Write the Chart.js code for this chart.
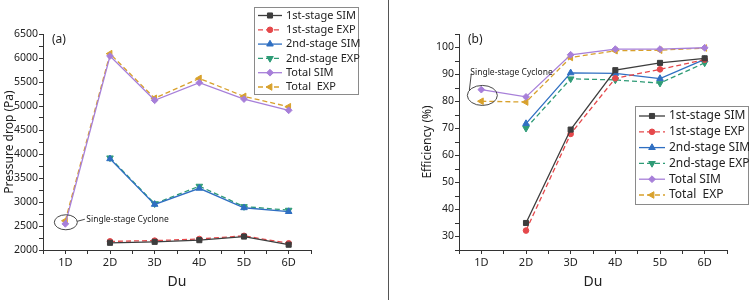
<!DOCTYPE html>
<html>
<head>
<meta charset="utf-8">
<script src="https://cdn.jsdelivr.net/npm/chart.js@4.4.0/dist/chart.umd.min.js"></script>
<style>
  html, body { margin: 0; padding: 0; background: #fff; }
  #wrap { display: flex; width: 750px; height: 300px; }
  #left { width: 388px; height: 300px; border-right: 1px solid #555; }
  #right { width: 361px; height: 300px; }
  canvas { display: block; }
</style>
</head>
<body>
<div id="wrap">
  <div id="left"><canvas id="dpChart" width="388" height="300"></canvas></div>
  <div id="right"><canvas id="effChart" width="361" height="300"></canvas></div>
</div>
<script>
// categories on the x axis
const categories = ['1D', '2D', '3D', '4D', '5D', '6D'];

// (a) pressure drop, Pa  (null = no value for single-stage)
const dp1Sim   = [null, 2150, 2170, 2205, 2280, 2110];
const dp1Exp   = [null, 2180, 2195, 2230, 2295, 2140];
const dp2Sim   = [null, 3900, 2950, 3285, 2880, 2800];
const dp2Exp   = [null, 3920, 2965, 3330, 2905, 2830];
const dpTotSim = [2545, 6040, 5120, 5485, 5145, 4910];
const dpTotExp = [2610, 6090, 5160, 5575, 5200, 4985];

// (b) efficiency, %
const ef1Sim   = [null, 35.0, 69.6, 91.6, 94.3, 96.0];
const ef1Exp   = [null, 32.2, 68.0, 88.6, 91.9, 95.5];
const ef2Sim   = [null, 71.8, 90.6, 90.4, 88.5, 95.6];
const ef2Exp   = [null, 70.1, 88.4, 88.0, 86.8, 94.3];
const efTotSim = [84.4, 81.7, 97.3, 99.4, 99.4, 99.9];
const efTotExp = [80.1, 79.8, 96.3, 98.8, 99.0, 99.8];

const seriesNames = ['1st-stage SIM', '1st-stage EXP', '2nd-stage SIM', '2nd-stage EXP', 'Total SIM', 'Total  EXP'];

Chart.defaults.font.family = "'Noto Sans', sans-serif";
Chart.defaults.color = '#222';

const styles = [
  { color: '#3d3d3d', point: 'rect',     rot: 0,   r: 3.6, dash: [] },
  { color: '#e5484b', point: 'circle',   rot: 0,   r: 2.8, dash: [5, 3] },
  { color: '#2f6fc2', point: 'triangle', rot: 0,   r: 3.8, dash: [] },
  { color: '#2e9b76', point: 'triangle', rot: 180, r: 3.8, dash: [5, 3] },
  { color: '#a77fd9', point: 'rectRot',  rot: 0,   r: 3.4, dash: [] },
  { color: '#d8a12c', point: 'triangle', rot: 270, r: 3.8, dash: [5, 3] }
];

function toPoints(values) {
  const pts = [];
  values.forEach((v, i) => { if (v !== null) pts.push({ x: i + 1, y: v }); });
  return pts;
}

function makeDatasets(list) {
  return list.map((values, i) => ({
    label: seriesNames[i],
    data: toPoints(values),
    borderColor: styles[i].color,
    backgroundColor: styles[i].color,
    borderWidth: 1.3,
    borderDash: styles[i].dash,
    pointStyle: styles[i].point,
    pointRotation: styles[i].rot,
    pointRadius: styles[i].r,
    pointBorderWidth: 1,
    tension: 0
  }));
}

function markerAt(ctx, ds, x, y) {
  ctx.save();
  ctx.setLineDash([]);
  ctx.fillStyle = ds.backgroundColor;
  ctx.strokeStyle = ds.borderColor;
  ctx.lineWidth = 1;
  Chart.helpers.drawPoint(ctx, { pointStyle: ds.pointStyle, rotation: ds.pointRotation, radius: ds.pointRadius, borderWidth: 1 }, x, y);
  ctx.restore();
}

// boxed legend drawn at a fixed spot of the canvas
const boxLegend = {
  id: 'boxLegend',
  afterDraw(chart, args, o) {
    const ctx = chart.ctx;
    ctx.save();
    ctx.fillStyle = '#fff';
    ctx.fillRect(o.x, o.y, o.w, o.h);
    ctx.strokeStyle = '#8a8a8a';
    ctx.lineWidth = 1;
    ctx.strokeRect(o.x + 0.5, o.y + 0.5, o.w, o.h);
    ctx.font = o.size + "px 'Noto Sans', sans-serif";
    ctx.textBaseline = 'middle';
    chart.data.datasets.forEach((ds, i) => {
      const y = o.y + o.first + i * o.row;
      const x0 = o.x + 4;
      ctx.strokeStyle = ds.borderColor;
      ctx.lineWidth = 1.3;
      ctx.setLineDash(ds.borderDash);
      ctx.beginPath();
      ctx.moveTo(x0, y);
      ctx.lineTo(x0 + o.line, y);
      ctx.stroke();
      ctx.setLineDash([]);
      markerAt(ctx, ds, x0 + o.line / 2, y);
      ctx.fillStyle = '#222';
      ctx.fillText(ds.label, x0 + o.line + 4, y);
    });
    ctx.restore();
  }
};

// panel letter + "Single-stage Cyclone" callout
const callout = {
  id: 'callout',
  afterDatasetsDraw(chart, args, o) {
    const ctx = chart.ctx;
    const xs = chart.scales.x, ys = chart.scales.y;
    const area = chart.chartArea;
    ctx.save();
    ctx.fillStyle = '#222';
    ctx.font = "12px 'Noto Sans', sans-serif";
    ctx.textBaseline = 'middle';
    ctx.fillText(o.letter, area.left + 9, area.top + 6);

    const cx = xs.getPixelForValue(1);
    const cy = (ys.getPixelForValue(o.yA) + ys.getPixelForValue(o.yB)) / 2;
    ctx.strokeStyle = '#333';
    ctx.lineWidth = 0.9;
    ctx.beginPath();
    ctx.ellipse(cx + o.dx, cy, o.rx, o.ry, 0, 0, Math.PI * 2);
    ctx.stroke();
    ctx.beginPath();
    ctx.moveTo(cx + o.dx + o.lx0, cy + o.ly0);
    ctx.lineTo(cx + o.dx + o.lx1, cy + o.ly1);
    ctx.stroke();
    ctx.font = o.size + "px 'Noto Sans', sans-serif";
    ctx.fillText('Single-stage Cyclone', cx + o.tx, cy + o.ty);
    ctx.restore();
  }
};

function axisOptions(cfg) {
  return {
    x: {
      type: 'linear', min: 0.5, max: 6.5,
      afterFit: s => { s.height = 50; },
      ticks: {
        stepSize: 0.5, autoSkip: false, maxRotation: 0, padding: 2,
        font: { size: 11 }, color: '#222',
        callback: v => Number.isInteger(v) ? categories[v - 1] : ''
      },
      grid: { drawOnChartArea: false, drawTicks: true, tickLength: 4, color: '#333' },
      border: { color: '#333', width: 1 },
      title: { display: true, text: 'Du', font: { size: 14 }, color: '#222', padding: { top: 0, bottom: 9.5 } }
    },
    y: {
      min: cfg.min, max: cfg.max,
      afterFit: s => { s.width = cfg.yWidth; },
      ticks: {
        stepSize: cfg.step, autoSkip: false, padding: 1,
        font: { size: 10.5 }, color: '#222',
        callback: cfg.label
      },
      grid: { drawOnChartArea: false, drawTicks: true, tickLength: 4, color: '#333' },
      border: { color: '#333', width: 1 },
      title: { display: true, text: cfg.title, font: { size: 12 }, color: '#222', padding: { top: cfg.titlePad, bottom: 0 } }
    }
  };
}

new Chart(document.getElementById('dpChart'), {
  type: 'line',
  data: { datasets: makeDatasets([dp1Sim, dp1Exp, dp2Sim, dp2Exp, dpTotSim, dpTotExp]) },
  options: {
    responsive: false, animation: false, devicePixelRatio: 1,
    layout: { padding: { left: 0, right: 77, top: 34, bottom: 0 } },
    plugins: {
      legend: { display: false }, tooltip: { enabled: false },
      boxLegend: { x: 254, y: 7, w: 104, h: 87, first: 8.5, row: 14.3, line: 24, size: 11 },
      callout: { letter: '(a)', yA: 2545, yB: 2610, dx: 0.5, rx: 11.5, ry: 7.5,
                 lx0: 11.5, ly0: -1, lx1: 19, ly1: -3, tx: 21, ty: -2.5, size: 8.5 }
    },
    scales: axisOptions({ min: 2000, max: 6500, step: 250, yWidth: 43, title: 'Pressure drop (Pa)', titlePad: 2.5,
      label: v => v % 500 === 0 ? v : '' })
  },
  plugins: [callout, boxLegend]
});

new Chart(document.getElementById('effChart'), {
  type: 'line',
  data: { datasets: makeDatasets([ef1Sim, ef1Exp, ef2Sim, ef2Exp, efTotSim, efTotExp]) },
  options: {
    responsive: false, animation: false, devicePixelRatio: 1,
    layout: { padding: { left: 30, right: 23, top: 34, bottom: 0 } },
    plugins: {
      legend: { display: false }, tooltip: { enabled: false },
      boxLegend: { x: 246, y: 106, w: 113, h: 98, first: 10, row: 15.8, line: 26, size: 12 },
      callout: { letter: '(b)', yA: 84.4, yB: 80.1, dx: 1, rx: 15, ry: 10,
                 lx0: -13, ly0: -5, lx1: -11, ly1: -22, tx: -11, ty: -23, size: 8.5 }
    },
    scales: axisOptions({ min: 25, max: 105, step: 5, yWidth: 40, title: 'Efficiency (%)', titlePad: 1,
      label: v => (v % 10 === 0 && v >= 30 && v <= 100) ? v : '' })
  },
  plugins: [callout, boxLegend]
});
</script>
</body>
</html>
